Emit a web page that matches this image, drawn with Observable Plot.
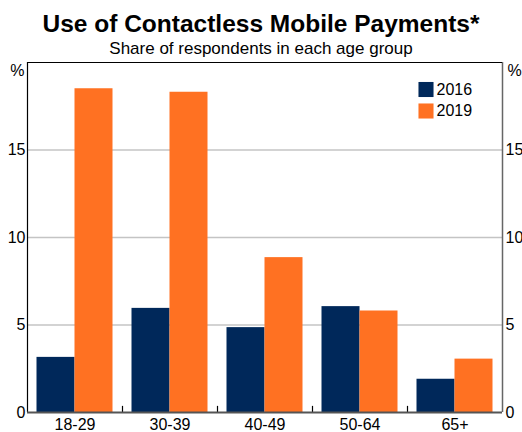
<!DOCTYPE html>
<html>
<head>
<meta charset="utf-8">
<script src="https://cdn.jsdelivr.net/npm/d3@7"></script>
<script src="https://cdn.jsdelivr.net/npm/@observablehq/plot@0.6"></script>
<style>
  html, body { margin: 0; padding: 0; background: #fff; }
  body { width: 522px; height: 432px; overflow: hidden; font-family: "Liberation Sans", Arial, sans-serif; }
  #title { font-size: 24.5px; font-weight: bold; text-align: center; line-height: 26px; padding-top: 11px; height: 26px; color: #000; }
  #subtitle { font-size: 17px; text-align: center; line-height: 18px; padding-top: 3px; height: 18px; color: #000; }
  svg { display: block; }
</style>
</head>
<body>
<div id="title">Use of Contactless Mobile Payments*</div>
<div id="subtitle">Share of respondents in each age group</div>
<div id="chart"></div>
<script>
const categories = ["18-29", "30-39", "40-49", "50-64", "65+"];
const years = ["2016", "2019"];
const values2016 = [3.15, 5.95, 4.85, 6.05, 1.9];
const values2019 = [18.5, 18.3, 8.85, 5.8, 3.05];
const yTicks = [0, 5, 10, 15];
const colors = ["#00285a", "#ff7122"];

const rows = categories.flatMap((c, i) => [
  {i, cat: c, year: years[0], value: values2016[i], x1: i + 0.1, x2: i + 0.5},
  {i, cat: c, year: years[1], value: values2019[i], x1: i + 0.5, x2: i + 0.9}
]);
const legend = years.map((y, i) => ({year: y, row: i}));

const chart = Plot.plot({
  width: 522,
  height: 374,
  marginLeft: 27,
  marginRight: 20,
  marginTop: 4,
  marginBottom: 20,
  style: {fontFamily: "'Liberation Sans', Arial, sans-serif", fontSize: "16px", color: "#000", background: "#fff"},
  x: {domain: [0, categories.length], axis: null},
  y: {domain: [0, 20], axis: null},
  color: {domain: years, range: colors},
  marks: [
    Plot.ruleY(yTicks.filter(d => d > 0), {stroke: "#c4c4c4", strokeWidth: 1.5}),
    Plot.rectY(rows, {x1: "x1", x2: "x2", y1: 0, y2: "value", fill: "year"}),
    Plot.ruleX(d3.range(1, categories.length), {y1: 0, y2: 0.35, stroke: "#000", strokeWidth: 1.2}),
    Plot.ruleX([0], {stroke: "#000", strokeWidth: 1.2}),
    Plot.ruleX([categories.length], {stroke: "#666", strokeWidth: 1.5}),
    Plot.ruleY([20], {stroke: "#000", strokeWidth: 1.2}),
    Plot.ruleY([0], {stroke: "#555", strokeWidth: 2}),
    Plot.axisY({anchor: "left", ticks: yTicks, tickSize: 0, tickPadding: 2, label: null, fontSize: 16}),
    Plot.axisY({anchor: "right", ticks: yTicks, tickSize: 0, tickPadding: 3, label: null, fontSize: 16}),
    Plot.axisX({anchor: "bottom", ticks: categories.map((c, i) => i + 0.5), tickFormat: d => categories[Math.floor(d)], tickSize: 0, tickPadding: 6.5, label: null, fontSize: 16}),
    Plot.text(["%"], {frameAnchor: "top-left", textAnchor: "end", lineAnchor: "middle", dx: -3, dy: 8.5, fontSize: 16}),
    Plot.text(["%"], {frameAnchor: "top-right", textAnchor: "start", lineAnchor: "middle", dx: 5, dy: 8.5, fontSize: 16}),
    Plot.dot(legend.filter(d => d.row === 0), {frameAnchor: "top-right", dx: -76.5, dy: 27, symbol: "square", r: 8.5, fill: "year"}),
    Plot.dot(legend.filter(d => d.row === 1), {frameAnchor: "top-right", dx: -76.5, dy: 48.5, symbol: "square", r: 8.5, fill: "year"}),
    Plot.text(legend.filter(d => d.row === 0), {text: "year", frameAnchor: "top-right", textAnchor: "start", lineAnchor: "middle", dx: -66, dy: 27, fontSize: 16}),
    Plot.text(legend.filter(d => d.row === 1), {text: "year", frameAnchor: "top-right", textAnchor: "start", lineAnchor: "middle", dx: -66, dy: 48.5, fontSize: 16})
  ]
});
document.getElementById("chart").append(chart);
</script>
</body>
</html>
